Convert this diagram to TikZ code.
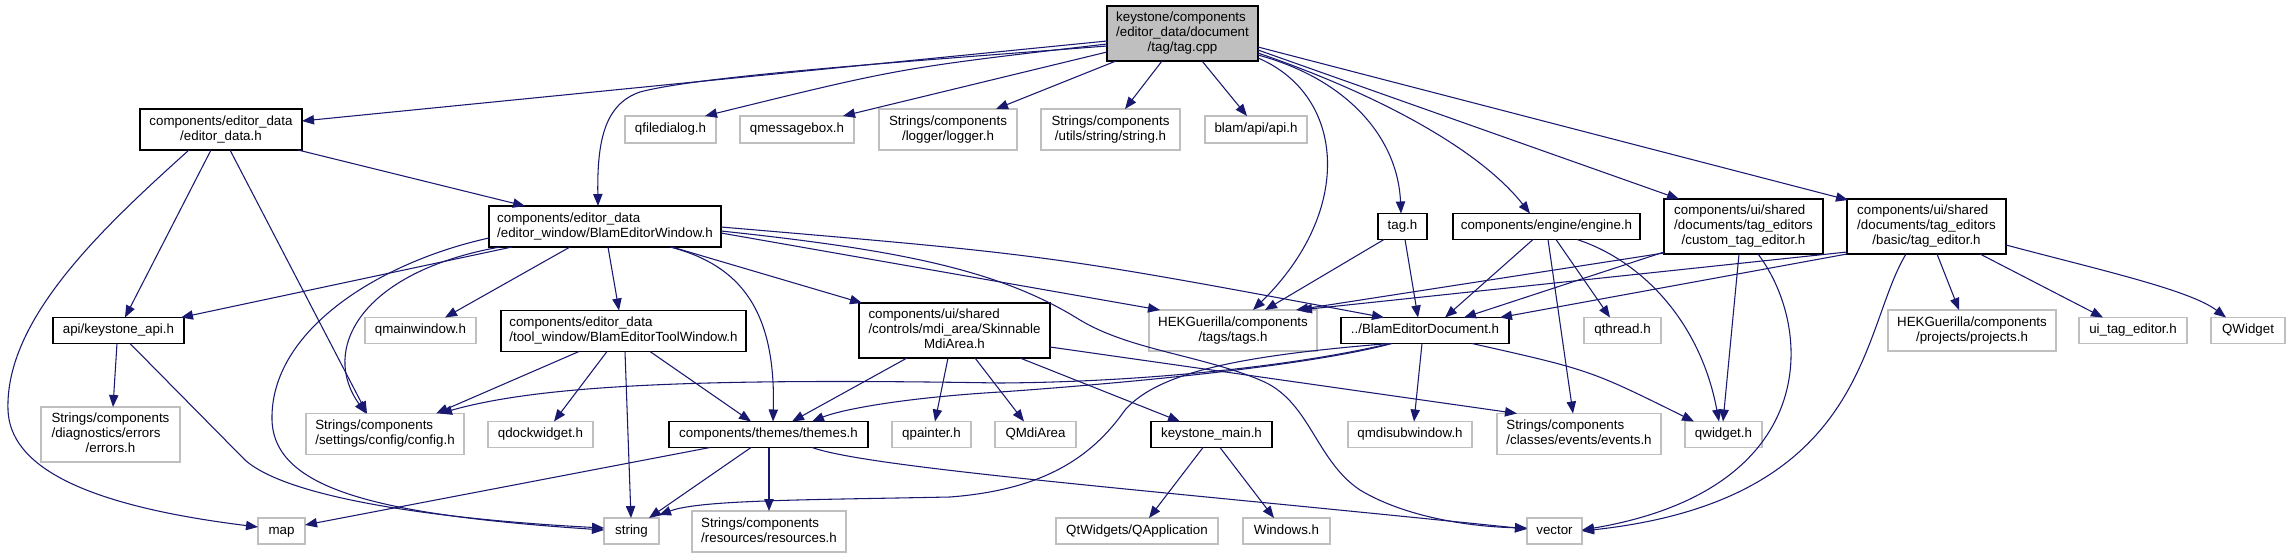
\documentclass[tikz,border=0pt]{standalone}
\usepackage{fontspec}
\setmainfont{Liberation Sans}
\usetikzlibrary{arrows.meta}
\definecolor{grey75}{RGB}{191,191,191}
\definecolor{edgecol}{RGB}{25,25,112}
\newcommand\mlbl[2]{\begin{tabular}{@{}l@{}}#1\\\multicolumn{1}{@{}c@{}}{#2}\end{tabular}}
\newcommand\slbl[1]{\begin{tabular}{@{}c@{}}#1\end{tabular}}
\tikzset{
  gbox/.style 2 args={line width=1.1pt, fill=white, inner sep=0pt,
    minimum width=#1*0.75pt, minimum height=#2*0.75pt,
    font=\fontsize{10}{11.25}\selectfont},
  known/.style={draw=black},
  extern/.style={draw=grey75},
  dep/.style={draw=edgecol, line width=0.8pt, -{Triangle[length=9pt,width=7pt]}},
}
\begin{document}
\begin{tikzpicture}[x=0.75pt,y=-0.75pt]
\fill[white] (0,0) rectangle (2290,557);
\useasboundingbox (0,0) rectangle (2290,557);
% row 1
\node[gbox={151}{55},known,fill=grey75] (cpp) at (1182.5,33.5) {\mlbl{keystone/components\\/editor\_data/document}{/tag/tag.cpp}};
% row 2
\node[gbox={162}{41},known] (editordata) at (221,129.5) {\mlbl{components/editor\_data}{/editor\_data.h}};
\node[gbox={91}{27},extern] (qfd) at (670.5,129.5) {\slbl{qfiledialog.h}};
\node[gbox={114}{27},extern] (qmb) at (797,129.5) {\slbl{qmessagebox.h}};
\node[gbox={138}{41},extern] (logger) at (948,129.5) {\mlbl{Strings/components}{/logger/logger.h}};
\node[gbox={139}{41},extern] (strh) at (1110.5,129.5) {\mlbl{Strings/components}{/utils/string/string.h}};
\node[gbox={102}{27},extern] (api) at (1256,129.5) {\slbl{blam/api/api.h}};
% row 3
\node[gbox={232}{41},known] (window) at (605,226.5) {\mlbl{components/editor\_data}{/editor\_window/BlamEditorWindow.h}};
\node[gbox={49}{26},known] (tagh) at (1402.5,226.5) {\slbl{tag.h}};
\node[gbox={187}{26},known] (engine) at (1546.5,226.5) {\slbl{components/engine/engine.h}};
\node[gbox={159}{55},known] (custom) at (1743.5,226.5) {\mlbl{components/ui/shared\\/documents/tag\_editors}{/custom\_tag\_editor.h}};
\node[gbox={159}{55},known] (basic) at (1926.5,226.5) {\mlbl{components/ui/shared\\/documents/tag\_editors}{/basic/tag\_editor.h}};
% row 4
\node[gbox={131}{26},known] (kapi) at (118.5,330.5) {\slbl{api/keystone\_api.h}};
\node[gbox={111}{26},extern] (qmw) at (420.5,330.5) {\slbl{qmainwindow.h}};
\node[gbox={245}{41},known] (tool) at (623.5,331) {\mlbl{components/editor\_data}{/tool\_window/BlamEditorToolWindow.h}};
\node[gbox={191}{55},known] (skin) at (954.5,330.5) {\mlbl{components/ui/shared\\/controls/mdi\_area/Skinnable}{MdiArea.h}};
\node[gbox={168}{41},extern] (tags) at (1233,330.5) {\mlbl{HEKGuerilla/components}{/tags/tags.h}};
\node[gbox={168}{26},known] (doc) at (1425,330.5) {\slbl{../BlamEditorDocument.h}};
\node[gbox={77}{26},extern] (qthread) at (1622.5,330.5) {\slbl{qthread.h}};
\node[gbox={168}{41},extern] (proj) at (1972,330.5) {\mlbl{HEKGuerilla/components}{/projects/projects.h}};
\node[gbox={108}{26},extern] (uitag) at (2133,330.5) {\slbl{ui\_tag\_editor.h}};
\node[gbox={74}{26},extern] (qwid) at (2248,330.5) {\slbl{QWidget}};
% row 5
\node[gbox={139}{55},extern] (errors) at (110.5,434.5) {\mlbl{Strings/components\\/diagnostics/errors}{/errors.h}};
\node[gbox={158}{41},extern] (config) at (385,434) {\mlbl{Strings/components}{/settings/config/config.h}};
\node[gbox={105}{26},extern] (qdock) at (540.5,434.5) {\slbl{qdockwidget.h}};
\node[gbox={199}{26},known] (themes) at (768.5,434.5) {\slbl{components/themes/themes.h}};
\node[gbox={79}{26},extern] (qpainter) at (931.5,434.5) {\slbl{qpainter.h}};
\node[gbox={81}{26},extern] (qmdiarea) at (1035.5,434.5) {\slbl{QMdiArea}};
\node[gbox={121}{26},known] (kmain) at (1211.5,434.5) {\slbl{keystone\_main.h}};
\node[gbox={124}{26},extern] (qmdisub) at (1410,434.5) {\slbl{qmdisubwindow.h}};
\node[gbox={164}{41},extern] (events) at (1579,434) {\mlbl{Strings/components}{/classes/events/events.h}};
\node[gbox={77}{26},extern] (qwidget) at (1723.5,434.5) {\slbl{qwidget.h}};
% row 6
\node[gbox={47}{26},extern] (map) at (281.5,531) {\slbl{map}};
\node[gbox={55}{26},extern] (string) at (631.5,531) {\slbl{string}};
\node[gbox={154}{41},extern] (resources) at (769,531.5) {\mlbl{Strings/components}{/resources/resources.h}};
\node[gbox={162}{26},extern] (qapp) at (1137,531) {\slbl{QtWidgets/QApplication}};
\node[gbox={87}{26},extern] (windows) at (1286.5,531) {\slbl{Windows.h}};
\node[gbox={55}{26},extern] (vector) at (1554.5,531) {\slbl{vector}};
% edges from tag.cpp
\draw[dep] ([shift={(-75.5,7.5)}]cpp.center) -- ([shift={(81,-8.5)}]editordata.center);
\draw[dep] ([shift={(-75.5,12.5)}]cpp.center) .. controls (900,62) and (700,76) .. (640,92) .. controls (605,104) and (597,140) .. ([shift={(-7,-20.5)}]window.center);
\draw[dep] ([shift={(-75.5,10.5)}]cpp.center) .. controls (900,68) .. ([shift={(34.5,-13.5)}]qfd.center);
\draw[dep] ([shift={(-75.5,18.5)}]cpp.center) -- ([shift={(46,-13.5)}]qmb.center);
\draw[dep] ([shift={(-66.5,27.5)}]cpp.center) -- ([shift={(48,-20.5)}]logger.center);
\draw[dep] ([shift={(-20.5,27.5)}]cpp.center) -- ([shift={(14.5,-20.5)}]strh.center);
\draw[dep] ([shift={(19.5,27.5)}]cpp.center) -- ([shift={(-9,-13.5)}]api.center);
\draw[dep] ([shift={(75.5,24.5)}]cpp.center) .. controls (1345,95) and (1355,210) .. ([shift={(20,-20.5)}]tags.center);
\draw[dep] ([shift={(75.5,21.5)}]cpp.center) .. controls (1350,80) and (1398,140) .. ([shift={(-1.5,-13)}]tagh.center);
\draw[dep] ([shift={(75.5,19.5)}]cpp.center) .. controls (1380,95) and (1480,150) .. ([shift={(-16.5,-13)}]engine.center);
\draw[dep] ([shift={(75.5,16.5)}]cpp.center) -- ([shift={(-64.5,-27.5)}]custom.center);
\draw[dep] ([shift={(75.5,13.5)}]cpp.center) -- ([shift={(-78.5,-26.5)}]basic.center);
% editor_data.h
\draw[dep] ([shift={(77,20.5)}]editordata.center) -- ([shift={(-80,-20.5)}]window.center);
\draw[dep] ([shift={(-10,20.5)}]editordata.center) -- ([shift={(6.5,-13)}]kapi.center);
\draw[dep] ([shift={(9,20.5)}]editordata.center) -- ([shift={(-18,-20.5)}]config.center);
\draw[dep] ([shift={(-32,20.5)}]editordata.center) .. controls (100,230) and (5,320) .. (8,410) .. controls (10,465) and (80,505) .. ([shift={(-23.5,-4)}]map.center);
% BlamEditorWindow.h
\draw[dep] ([shift={(-93,20.5)}]window.center) -- ([shift={(62.5,-13)}]kapi.center);
\draw[dep] ([shift={(-105,20.5)}]window.center) .. controls (360,272) and (320,350) .. ([shift={(-19,-20.5)}]config.center);
\draw[dep] ([shift={(-116,11.5)}]window.center) .. controls (380,262) and (270,330) .. (272,420) .. controls (274,490) and (380,515) .. ([shift={(-27.5,-1)}]string.center);
\draw[dep] ([shift={(-35,20.5)}]window.center) -- ([shift={(24.5,-13)}]qmw.center);
\draw[dep] ([shift={(3,20.5)}]window.center) -- ([shift={(-4.5,-20.5)}]tool.center);
\draw[dep] ([shift={(65,20.5)}]window.center) .. controls (740,265) and (776,310) .. ([shift={(4.5,-13)}]themes.center);
\draw[dep] ([shift={(67,20.5)}]window.center) -- ([shift={(-92.5,-27.5)}]skin.center);
\draw[dep] ([shift={(116,6.5)}]window.center) -- ([shift={(-73,-20.5)}]tags.center);
\draw[dep] ([shift={(116,4.5)}]window.center) .. controls (900,250) and (1000,270) .. (1080,320) .. controls (1130,350) and (1200,355) .. (1260,380) .. controls (1310,400) and (1315,460) .. (1360,490) .. controls (1410,520) and (1480,527) .. ([shift={(-27.5,-3)}]vector.center);
\draw[dep] ([shift={(116,0.5)}]window.center) .. controls (1050,255) .. ([shift={(-41,-13)}]doc.center);
% keystone_api.h
\draw[dep] ([shift={(-1.5,13)}]kapi.center) -- ([shift={(2.5,-27.5)}]errors.center);
\draw[dep] ([shift={(11.5,13)}]kapi.center) -- (245,460) .. controls (290,500) and (450,520) .. ([shift={(-27.5,-3)}]string.center);
% BlamEditorToolWindow.h
\draw[dep] ([shift={(-44.5,20.5)}]tool.center) -- ([shift={(51,-20.5)}]config.center);
\draw[dep] ([shift={(-16.5,20.5)}]tool.center) -- ([shift={(13.5,-13)}]qdock.center);
\draw[dep] ([shift={(1.5,20.5)}]tool.center) -- ([shift={(-0.5,-13)}]string.center);
\draw[dep] ([shift={(26.5,20.5)}]tool.center) -- ([shift={(-17.5,-13)}]themes.center);
% themes.h
\draw[dep] ([shift={(-58.5,13)}]themes.center) -- ([shift={(23.5,-6)}]map.center);
\draw[dep] ([shift={(-17.5,13)}]themes.center) -- ([shift={(17.5,-13)}]string.center);
\draw[dep] ([shift={(0.5,13)}]themes.center) -- ([shift={(0,-20.5)}]resources.center);
\draw[dep] ([shift={(43.5,13)}]themes.center) .. controls (870,468) and (1150,490) .. ([shift={(-27.5,-2)}]vector.center);
% SkinnableMdiArea.h
\draw[dep] ([shift={(-47.5,27.5)}]skin.center) -- ([shift={(23.5,-13)}]themes.center);
\draw[dep] ([shift={(-6.5,27.5)}]skin.center) -- ([shift={(3.5,-13)}]qpainter.center);
\draw[dep] ([shift={(20.5,27.5)}]skin.center) -- ([shift={(-11.5,-13)}]qmdiarea.center);
\draw[dep] ([shift={(65.5,27.5)}]skin.center) -- ([shift={(-31.5,-13)}]kmain.center);
\draw[dep] ([shift={(95.5,16.5)}]skin.center) -- ([shift={(-62,-20.5)}]events.center);
% keystone_main.h
\draw[dep] ([shift={(-8.5,13)}]kmain.center) -- ([shift={(12,-13)}]qapp.center);
\draw[dep] ([shift={(8.5,13)}]kmain.center) -- ([shift={(-12.5,-13)}]windows.center);
% tag.h
\draw[dep] ([shift={(-18.5,13)}]tagh.center) -- ([shift={(32,-20.5)}]tags.center);
\draw[dep] ([shift={(2.5,13)}]tagh.center) -- ([shift={(-7,-13)}]doc.center);
% engine.h
\draw[dep] ([shift={(-13.5,13)}]engine.center) -- ([shift={(20,-13)}]doc.center);
\draw[dep] ([shift={(1.5,13)}]engine.center) -- ([shift={(-6,-20.5)}]events.center);
\draw[dep] ([shift={(9.5,13)}]engine.center) -- ([shift={(-12.5,-13)}]qthread.center);
\draw[dep] ([shift={(30.5,13)}]engine.center) .. controls (1640,260) and (1700,320) .. ([shift={(-4.5,-13)}]qwidget.center);
% custom_tag_editor.h
\draw[dep] ([shift={(-79.5,26.5)}]custom.center) -- ([shift={(63,-20.5)}]tags.center);
\draw[dep] ([shift={(-79.5,25.5)}]custom.center) -- ([shift={(39,-13)}]doc.center);
\draw[dep] ([shift={(-4.5,27.5)}]custom.center) -- ([shift={(-0.5,-13)}]qwidget.center);
\draw[dep] ([shift={(14.5,27.5)}]custom.center) .. controls (1815,330) and (1820,490) .. ([shift={(27.5,-1)}]vector.center);
% basic/tag_editor.h
\draw[dep] ([shift={(-79.5,25.5)}]basic.center) -- ([shift={(67,-20.5)}]tags.center);
\draw[dep] ([shift={(-79.5,27.5)}]basic.center) -- ([shift={(75,-13)}]doc.center);
\draw[dep] ([shift={(-20.5,27.5)}]basic.center) .. controls (1860,330) and (1870,500) .. ([shift={(27.5,0)}]vector.center);
\draw[dep] ([shift={(10.5,27.5)}]basic.center) -- ([shift={(-13,-20.5)}]proj.center);
\draw[dep] ([shift={(53.5,27.5)}]basic.center) -- ([shift={(-30,-13)}]uitag.center);
\draw[dep] ([shift={(79.5,18.5)}]basic.center) .. controls (2100,270) and (2190,290) .. ([shift={(-22,-13)}]qwid.center);
% BlamEditorDocument.h
\draw[dep] ([shift={(-35,13)}]doc.center) .. controls (1300,365) and (1150,382) .. (1000,383) .. controls (700,378) and (540,385) .. ([shift={(55,-20.5)}]config.center);
\draw[dep] ([shift={(-33,13)}]doc.center) .. controls (1300,368) and (1100,385) .. (1000,392) .. controls (900,398) and (840,410) .. ([shift={(43.5,-13)}]themes.center);
\draw[dep] ([shift={(-36,13)}]doc.center) .. controls (1250,355) and (1160,370) .. (1125,410) .. controls (1090,460) and (1040,490) .. (950,497) .. controls (800,500) and (700,500) .. ([shift={(27.5,-16)}]string.center);
\draw[dep] ([shift={(-3,13)}]doc.center) -- ([shift={(4,-13)}]qmdisub.center);
\draw[dep] ([shift={(47,13)}]doc.center) .. controls (1590,370) .. ([shift={(-29.5,-13)}]qwidget.center);
\end{tikzpicture}
\end{document}
